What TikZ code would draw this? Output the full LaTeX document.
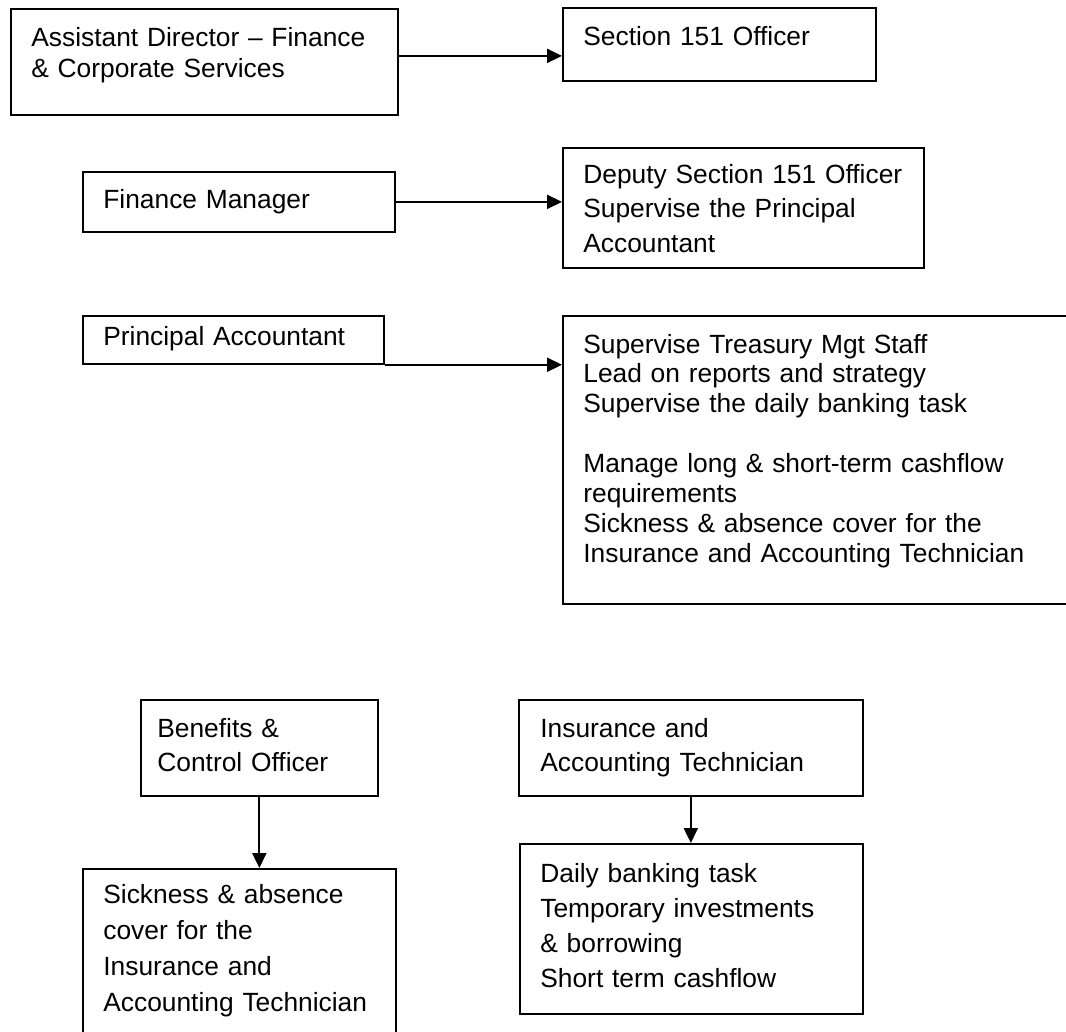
\documentclass[tikz,border=0pt]{standalone}
\usepackage{fontspec}
\setmainfont{Liberation Sans}
\usetikzlibrary{arrows.meta}
\tikzset{
  box/.style={draw, line width=1pt, anchor=north west, inner sep=0pt},
  txt/.style={anchor=base west, inner sep=0pt, text width=9cm, align=left,
    font=\fontsize{15}{19.8}\selectfont},
  arr/.style={line width=1pt, -{Triangle[length=8.5pt, width=8pt]}}
}

\begin{document}
\begin{tikzpicture}[x=0.02cm, y=-0.02cm]
    \useasboundingbox (0,0) rectangle (1066,1032);

    % top row
    \node[box, minimum width=7.74cm, minimum height=2.12cm] (ad) at (10,8) {};
    \node[box, minimum width=6.26cm, minimum height=1.46cm] (s151) at (562,7) {};
    \node[txt, font=\fontsize{15}{18.2}\selectfont] (adtxt) at (31,46) {Assistant Director -- Finance\\ \& Corporate Services};
    \node[txt] (s151txt) at (583,45) {Section 151 Officer};

    % second row
    \node[box, minimum width=6.24cm, minimum height=1.2cm] (fm) at (82,171) {};
    \node[box, minimum width=7.22cm, minimum height=2.4cm] (dep) at (562,147) {};
    \node[txt] (fmtxt) at (103,208) {Finance Manager};
    \node[txt] (deptxt) at (583,183) {Deputy Section 151 Officer\\ Supervise the Principal\\ Accountant};

    % third row
    \node[box, minimum width=6.02cm, minimum height=0.96cm] (pa) at (82,315) {};
    \node[box, minimum width=10.36cm, minimum height=5.76cm] (big) at (562,315) {};
    \node[txt] (patxt) at (103,345) {Principal Accountant};
    \node[txt, font=\fontsize{15}{17}\selectfont] (bigtxt) at (583,353) {Supervise Treasury Mgt Staff\\ Lead on reports and strategy\\ Supervise the daily banking task\\[17pt] Manage long \& short-term cashflow\\ requirements\\ Sickness \& absence cover for the\\ Insurance and Accounting Technician};

    % bottom
    \node[box, minimum width=4.74cm, minimum height=1.92cm] (ben) at (140,699) {};
    \node[box, minimum width=6.88cm, minimum height=1.92cm] (ins) at (518,699) {};
    \node[box, minimum width=6.26cm, minimum height=3.6cm] (sick) at (82,868) {};
    \node[box, minimum width=6.86cm, minimum height=3.4cm] (daily) at (519,843) {};
    \node[txt] (bentxt) at (157,737) {Benefits \&\\ Control Officer};
    \node[txt] (instxt) at (540,737) {Insurance and\\ Accounting Technician};
    \node[txt, font=\fontsize{15}{20.6}\selectfont] (sicktxt) at (103,903) {Sickness \& absence\\ cover for the\\ Insurance and\\ Accounting Technician};
    \node[txt, font=\fontsize{15}{20}\selectfont] (dailytxt) at (540,882) {Daily banking task\\ Temporary investments\\ \& borrowing\\ Short term cashflow};

    \draw[arr] ([yshift=0.12cm]ad.east) -- ([yshift=0.12cm]ad.east -| s151.west);
    \draw[arr] (fm.east) -- (fm.east -| dep.west);
    \draw[arr] (pa.south east) -- (pa.south east -| big.west);
    \draw[arr] (ben.south) -- (ben.south |- sick.north);
    \draw[arr] (ins.south) -- (ins.south |- daily.north);
\end{tikzpicture}
\end{document}
